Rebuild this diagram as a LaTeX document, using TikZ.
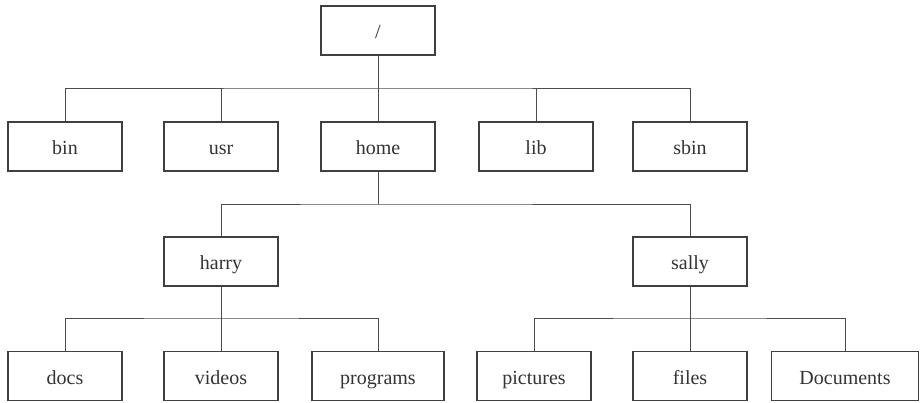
\documentclass[tikz,border=0pt]{standalone}
\usepackage{fontspec}
\setmainfont{Liberation Serif}
\begin{document}
\begin{tikzpicture}[x=1pt,y=-1pt,
  dirbox/.style={draw=black!75,line width=1.3pt,minimum width=114pt,minimum height=49pt,inner sep=0pt,text height=16pt,text depth=0pt,font=\fontsize{20}{22}\selectfont,text=black!80},
  conn/.style={draw=black!70,line width=0.9pt}]
\useasboundingbox (0,0) rectangle (920,403);
\node[dirbox] (root) at (378,30.5) {/};
\node[dirbox] (bin) at (65,146.5) {bin};
\node[dirbox] (usr) at (221,146.5) {usr};
\node[dirbox] (home) at (378,146.5) {home};
\node[dirbox] (lib) at (536,146.5) {lib};
\node[dirbox] (sbin) at (690,146.5) {sbin};
\node[dirbox] (harry) at (221,261.5) {harry};
\node[dirbox] (sally) at (690,261.5) {sally};
\node[dirbox] (docs) at (65,376) {docs};
\node[dirbox] (videos) at (221,376) {videos};
\node[dirbox,minimum width=132pt] (programs) at (378,376) {programs};
\node[dirbox] (pictures) at (534,376) {pictures};
\node[dirbox] (files) at (690,376) {files};
\node[dirbox,minimum width=147pt] (Documents) at (845,376) {Documents};
\coordinate (j1) at (378,88);
\coordinate (j2) at (378,204);
\coordinate (j3) at (221,318);
\coordinate (j4) at (690,318);
\draw[conn] (root.south) -- (home.north);
\draw[conn] (bin.north) |- (j1) -| (sbin.north);
\draw[conn] (usr.north) -- (usr.north |- j1);
\draw[conn] (lib.north) -- (lib.north |- j1);
\draw[conn] (home.south) -- (j2);
\draw[conn] (harry.north) |- (j2) -| (sally.north);
\draw[conn] (harry.south) -- (videos.north);
\draw[conn] (docs.north) |- (j3) -| (programs.north);
\draw[conn] (sally.south) -- (files.north);
\draw[conn] (pictures.north) |- (j4) -| (Documents.north);
\end{tikzpicture}
\end{document}
